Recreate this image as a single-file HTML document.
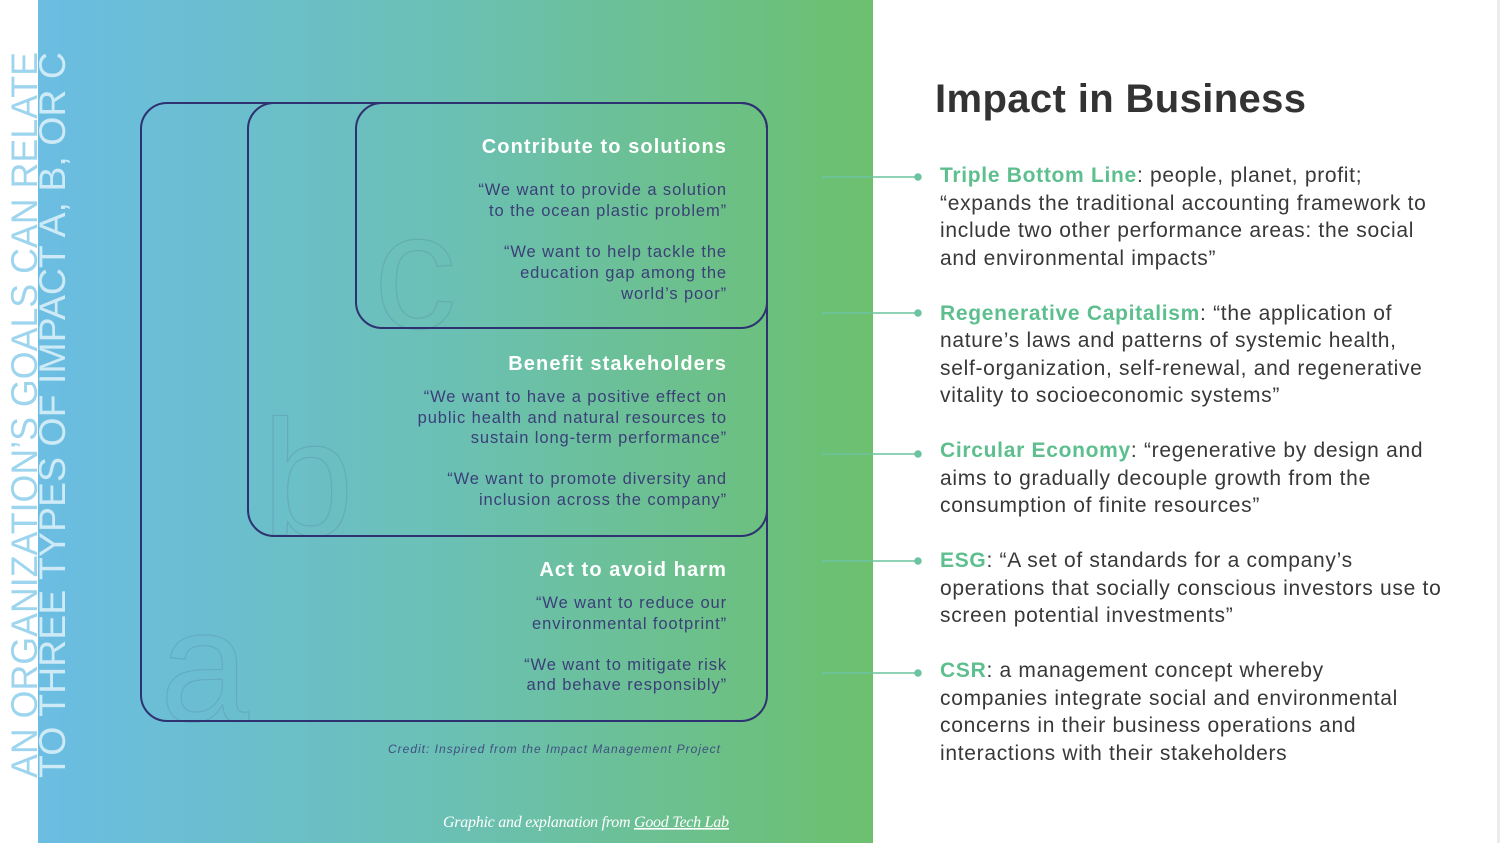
<!DOCTYPE html>
<html><head><meta charset="utf-8"><style>
html,body{margin:0;padding:0;background:#fff;}
svg{display:block;}
</style></head><body>
<svg width="1500" height="843" viewBox="0 0 1500 843" xmlns="http://www.w3.org/2000/svg">
<defs>
<linearGradient id="g" x1="0" y1="0" x2="1" y2="0">
<stop offset="0" stop-color="#6bbde3"/>
<stop offset="0.5" stop-color="#6bc0b4"/>
<stop offset="1" stop-color="#6cc06d"/>
</linearGradient>
</defs>
<rect x="0" y="0" width="1500" height="843" fill="#fff"/>
<rect x="38" y="0" width="835" height="843" fill="url(#g)"/>
<rect x="1497" y="0" width="3" height="843" fill="#ececec"/>

<!-- vertical text -->
<g font-family="Liberation Sans, sans-serif" font-size="37">
<text transform="translate(37,778) rotate(-90)" textLength="726" lengthAdjust="spacingAndGlyphs" fill="#9dd5ef">AN ORGANIZATION’S GOALS CAN RELATE</text>
<text transform="translate(65,778) rotate(-90)" textLength="726" lengthAdjust="spacingAndGlyphs" fill="#cdeaf6">TO THREE TYPES OF IMPACT A, B, OR C</text>
</g>

<!-- faint letters -->
<g font-family="Liberation Sans, sans-serif" fill="none" stroke="rgba(70,90,140,0.18)" stroke-width="1.2">
<text x="374" y="328" font-size="165">c</text>
<text x="262" y="535" font-size="165">b</text>
<text x="160" y="721" font-size="160">a</text>
</g>

<!-- boxes -->
<g fill="none" stroke="#2e3270" stroke-width="2">
<rect x="141" y="103" width="626" height="618" rx="26"/>
<rect x="248" y="103" width="519" height="433" rx="26"/>
<rect x="356" y="103" width="411" height="225" rx="26"/>
</g>

<!-- box text -->
<g font-family="Liberation Sans, sans-serif" text-anchor="end">
<g fill="#fff" font-weight="bold" font-size="20" letter-spacing="1.1">
<text x="727" y="153">Contribute to solutions</text>
<text x="727" y="370">Benefit stakeholders</text>
<text x="727" y="576">Act to avoid harm</text>
</g>
<g fill="#3b3f78" font-size="16.5" letter-spacing="0.9">
<text x="727" y="195">“We want to provide a solution</text>
<text x="727" y="216">to the ocean plastic problem”</text>
<text x="727" y="257">“We want to help tackle the</text>
<text x="727" y="278">education gap among the</text>
<text x="727" y="299">world’s poor”</text>
<text x="727" y="402">“We want to have a positive effect on</text>
<text x="727" y="423">public health and natural resources to</text>
<text x="727" y="443">sustain long-term performance”</text>
<text x="727" y="484">“We want to promote diversity and</text>
<text x="727" y="505">inclusion across the company”</text>
<text x="727" y="608">“We want to reduce our</text>
<text x="727" y="629">environmental footprint”</text>
<text x="727" y="670">“We want to mitigate risk</text>
<text x="727" y="690">and behave responsibly”</text>
</g>
</g>
<text x="388" y="753" font-family="Liberation Sans, sans-serif" font-style="italic" font-size="12" fill="#3f5080" textLength="332">Credit: Inspired from the Impact Management Project</text>
<text x="443" y="827" font-family="Liberation Serif, serif" font-style="italic" font-size="16" fill="#fff" textLength="286">Graphic and explanation from <tspan text-decoration="underline">Good Tech Lab</tspan></text>

<!-- title -->
<text x="935" y="112" font-family="Liberation Sans, sans-serif" font-weight="bold" font-size="40" fill="#333" textLength="371">Impact in Business</text>

<!-- connectors -->
<g stroke="#6cc3a0" stroke-width="1.5" fill="#6cc3a0">
<line x1="822" y1="177" x2="918" y2="177"/><circle cx="918" cy="177" r="3"/>
<line x1="822" y1="313" x2="918" y2="313"/><circle cx="918" cy="313" r="3"/>
<line x1="822" y1="454" x2="918" y2="454"/><circle cx="918" cy="454" r="3"/>
<line x1="822" y1="561" x2="918" y2="561"/><circle cx="918" cy="561" r="3"/>
<line x1="822" y1="673" x2="918" y2="673"/><circle cx="918" cy="673" r="3"/>
</g>

<!-- right text -->
<g font-family="Liberation Sans, sans-serif" font-size="21" letter-spacing="0.7" fill="#383838">
<text x="940" y="182"><tspan fill="#5dbf8e" font-weight="bold">Triple Bottom Line</tspan>: people, planet, profit;</text>
<text x="940" y="210">“expands the traditional accounting framework to</text>
<text x="940" y="237">include two other performance areas: the social</text>
<text x="940" y="265">and environmental impacts”</text>

<text x="940" y="320"><tspan fill="#5dbf8e" font-weight="bold">Regenerative Capitalism</tspan>: “the application of</text>
<text x="940" y="347">nature’s laws and patterns of systemic health,</text>
<text x="940" y="375">self-organization, self-renewal, and regenerative</text>
<text x="940" y="402">vitality to socioeconomic systems”</text>

<text x="940" y="457"><tspan fill="#5dbf8e" font-weight="bold">Circular Economy</tspan>: “regenerative by design and</text>
<text x="940" y="485">aims to gradually decouple growth from the</text>
<text x="940" y="512">consumption of finite resources”</text>

<text x="940" y="567"><tspan fill="#5dbf8e" font-weight="bold">ESG</tspan>:  “A set of standards for a company’s</text>
<text x="940" y="595">operations that socially conscious investors use to</text>
<text x="940" y="622">screen potential investments”</text>

<text x="940" y="677"><tspan fill="#5dbf8e" font-weight="bold">CSR</tspan>: a management concept whereby</text>
<text x="940" y="705">companies integrate social and environmental</text>
<text x="940" y="732">concerns in their business operations and</text>
<text x="940" y="760">interactions with their stakeholders</text>
</g>
</svg>
</body></html>
